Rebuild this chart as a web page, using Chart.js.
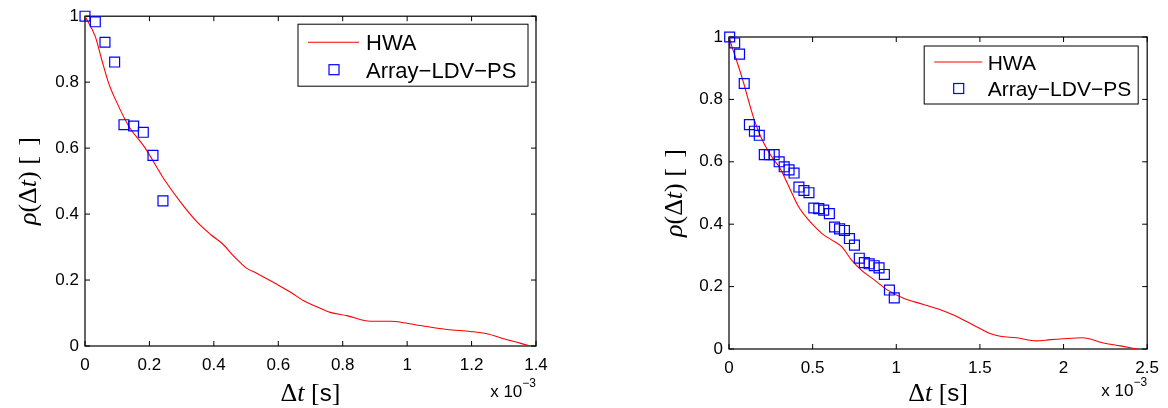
<!DOCTYPE html>
<html>
<head>
<meta charset="utf-8">
<script src="https://cdn.jsdelivr.net/npm/chart.js@4.4.0/dist/chart.umd.min.js"></script>
<style>
  html, body { margin: 0; padding: 0; background: #fff; }
  #wrap { position: relative; width: 1168px; height: 408px; overflow: hidden; }
  canvas { position: absolute; top: 0; }
  #left { left: 0; }
  #right { left: 584px; }
</style>
</head>
<body>
<div id="wrap">
  <canvas id="left" width="584" height="408"></canvas>
  <canvas id="right" width="584" height="408"></canvas>
</div>
<script>
// time lags are in units of 1e-3 s (the axes carry the "x 10^-3" multiplier)

// left panel
const leftHwaX = [0, 0.032, 0.052, 0.073, 0.099, 0.135, 0.187, 0.244, 0.296, 0.347, 0.39, 0.43, 0.46, 0.482, 0.5, 0.534, 0.596, 0.64, 0.679, 0.72, 0.761, 0.813, 0.886, 0.948, 1.0, 1.04, 1.124, 1.196, 1.248, 1.3, 1.383];
const leftHwaY = [1, 0.938, 0.868, 0.798, 0.738, 0.668, 0.6, 0.508, 0.437, 0.377, 0.338, 0.307, 0.274, 0.253, 0.237, 0.22, 0.187, 0.162, 0.137, 0.119, 0.102, 0.092, 0.075, 0.075, 0.069, 0.062, 0.05, 0.044, 0.037, 0.022, 0];
const leftLdvX = [0, 0.032, 0.062, 0.092, 0.121, 0.151, 0.181, 0.211, 0.242];
const leftLdvY = [1.0, 0.983, 0.921, 0.861, 0.671, 0.667, 0.648, 0.578, 0.440];
const leftXTicks = [0, 0.2, 0.4, 0.6, 0.8, 1, 1.2, 1.4];

// right panel
const rightHwaX = [0, 0.02, 0.045, 0.083, 0.12, 0.152, 0.19, 0.231, 0.27, 0.3, 0.368, 0.417, 0.478, 0.52, 0.556, 0.615, 0.675, 0.734, 0.793, 0.872, 0.951, 1.05, 1.109, 1.247, 1.346, 1.42, 1.503, 1.56, 1.621, 1.72, 1.838, 1.92, 1.996, 2.115, 2.233, 2.34, 2.44];
const rightHwaY = [1, 0.965, 0.925, 0.861, 0.79, 0.733, 0.68, 0.637, 0.605, 0.584, 0.509, 0.455, 0.412, 0.388, 0.37, 0.349, 0.327, 0.284, 0.252, 0.22, 0.188, 0.161, 0.151, 0.129, 0.108, 0.088, 0.065, 0.05, 0.041, 0.036, 0.026, 0.03, 0.033, 0.036, 0.02, 0.01, 0];
const rightLdvX = [0.004, 0.034, 0.063, 0.091, 0.122, 0.152, 0.181, 0.211, 0.241, 0.270, 0.300, 0.330, 0.359, 0.389, 0.418, 0.448, 0.478, 0.507, 0.537, 0.566, 0.600, 0.631, 0.661, 0.690, 0.720, 0.750, 0.779, 0.809, 0.838, 0.868, 0.897, 0.929, 0.959, 0.988];
const rightLdvY = [1.0, 0.981, 0.945, 0.851, 0.719, 0.698, 0.685, 0.623, 0.623, 0.623, 0.600, 0.584, 0.574, 0.564, 0.519, 0.508, 0.501, 0.452, 0.450, 0.445, 0.434, 0.391, 0.385, 0.380, 0.354, 0.333, 0.291, 0.277, 0.273, 0.267, 0.260, 0.239, 0.189, 0.164];
const rightXTicks = [0, 0.5, 1, 1.5, 2, 2.5];

const yTicks = [0, 0.2, 0.4, 0.6, 0.8, 1];
const seriesNames = ['HWA', 'Array\u2212LDV\u2212PS'];

const SANS = '"Liberation Sans", Arial, Helvetica, sans-serif';
const SERIF = '"Liberation Serif", "Times New Roman", serif';

function pairs(xs, ys) {
  return xs.map((x, i) => ({ x: x, y: ys[i] }));
}

// matlab style box with inward ticks on all four sides
const axesBox = {
  id: 'axesBox',
  beforeDatasetsDraw(chart) {
    const { ctx, chartArea: a, scales: { x, y } } = chart;
    ctx.save();
    ctx.strokeStyle = '#000';
    ctx.lineWidth = 1;
    ctx.beginPath();
    x.ticks.forEach(t => {
      const px = x.getPixelForValue(t.value);
      ctx.moveTo(px, a.bottom); ctx.lineTo(px, a.bottom - 5);
      ctx.moveTo(px, a.top); ctx.lineTo(px, a.top + 5);
    });
    y.ticks.forEach(t => {
      const py = y.getPixelForValue(t.value);
      ctx.moveTo(a.left, py); ctx.lineTo(a.left + 5, py);
      ctx.moveTo(a.right, py); ctx.lineTo(a.right - 5, py);
    });
    ctx.stroke();
    ctx.lineWidth = 1.2;
    ctx.strokeRect(a.left, a.top, a.right - a.left, a.bottom - a.top);
    ctx.restore();
  }
};

// legend in a framed box at the upper right of the axes
const boxLegend = {
  id: 'boxLegend',
  afterDraw(chart, args, o) {
    const { ctx, chartArea: a } = chart;
    const left = a.right - o.inset - o.width;
    const top = a.top + o.inset;
    const [hwa, ldv] = chart.data.datasets;
    ctx.save();
    ctx.fillStyle = '#fff';
    ctx.fillRect(left, top, o.width, o.height);
    ctx.strokeStyle = '#000';
    ctx.lineWidth = 1;
    ctx.strokeRect(left, top, o.width, o.height);

    ctx.font = o.fontSize + 'px ' + SANS;
    ctx.fillStyle = '#000';
    ctx.textBaseline = 'alphabetic';
    const capHalf = o.fontSize * 0.716 / 2;

    const y1 = top + o.row1;
    ctx.strokeStyle = hwa.borderColor;
    ctx.lineWidth = hwa.borderWidth;
    ctx.beginPath();
    ctx.moveTo(left + o.line0, y1);
    ctx.lineTo(left + o.line1, y1);
    ctx.stroke();
    ctx.fillText(hwa.label, left + o.text, y1 + capHalf);

    const y2 = top + o.row2;
    ctx.strokeStyle = ldv.borderColor;
    ctx.lineWidth = ldv.borderWidth;
    ctx.strokeRect(left + o.marker - 5, y2 - 5, 10, 10);
    ctx.fillText(ldv.label, left + o.text, y2 + capHalf);
    ctx.restore();
  }
};

function drawRich(ctx, parts, x, y, angle) {
  ctx.save();
  ctx.translate(x, y);
  ctx.rotate(angle);
  let total = 0;
  parts.forEach(p => { ctx.font = p[1]; total += ctx.measureText(p[0]).width; });
  let cx = -total / 2;
  ctx.fillStyle = '#000';
  ctx.textBaseline = 'alphabetic';
  parts.forEach(p => {
    ctx.font = p[1];
    ctx.fillText(p[0], cx, 0);
    cx += ctx.measureText(p[0]).width;
  });
  ctx.restore();
}

// axis titles and the x10^-3 multiplier
const axisText = {
  id: 'axisText',
  afterDraw(chart, args, o) {
    const { ctx, chartArea: a } = chart;
    const fs = o.titleSize;
    const it = 'italic ' + fs + 'px ' + SERIF;
    const rm = fs + 'px ' + SERIF;
    drawRich(ctx, [['\u0394', rm], ['t', it], [' [', rm], ['s', (fs - 2) + 'px ' + SANS], [']', rm]],
      (a.left + a.right) / 2, o.xTitleBase, 0);
    drawRich(ctx, [['\u03c1', it], ['(', rm], ['\u0394', rm], ['t', it], [')', rm], [' [\u2009\u2009]', rm]],
      o.yTitleBase, (a.top + a.bottom) / 2, -Math.PI / 2);

    ctx.save();
    ctx.fillStyle = '#000';
    ctx.textBaseline = 'alphabetic';
    ctx.font = '12px ' + SANS;
    const supW = ctx.measureText('\u22123').width;
    ctx.textAlign = 'right';
    ctx.fillText('\u22123', a.right, o.expBase - 10);
    ctx.font = '17px ' + SANS;
    ctx.fillText('x 10', a.right - supW, o.expBase);
    ctx.restore();
  }
};

function buildChart(id, s) {
  const tickFont = { family: SANS, size: 17 };
  return new Chart(document.getElementById(id), {
    type: 'scatter',
    data: {
      datasets: [
        {
          label: seriesNames[0],
          data: pairs(s.hwaX, s.hwaY),
          showLine: true,
          borderColor: 'rgb(255,0,0)',
          borderWidth: 1.1,
          pointRadius: 0,
          cubicInterpolationMode: 'monotone',
          order: 1
        },
        {
          label: seriesNames[1],
          data: pairs(s.ldvX, s.ldvY),
          showLine: false,
          pointStyle: 'rect',
          pointRadius: 7,
          pointHoverRadius: 7,
          borderColor: 'rgb(0,0,255)',
          backgroundColor: 'rgba(0,0,0,0)',
          borderWidth: 1.2,
          clip: false,
          order: 0
        }
      ]
    },
    options: {
      responsive: false,
      animation: false,
      devicePixelRatio: 1,
      events: [],
      layout: { padding: { top: s.padTop, right: s.padRight, left: 0, bottom: 0 } },
      plugins: {
        legend: { display: false },
        tooltip: { enabled: false },
        boxLegend: s.legend,
        axisText: s.text
      },
      scales: {
        x: {
          type: 'linear',
          min: 0,
          max: s.xTicks[s.xTicks.length - 1],
          afterBuildTicks: sc => { sc.ticks = s.xTicks.map(v => ({ value: v })); },
          afterFit: sc => { sc.height = s.xAxisHeight; },
          grid: { display: false, drawTicks: false },
          border: { display: false },
          ticks: { font: tickFont, color: '#000', padding: 9, maxRotation: 0, autoSkip: false, callback: v => String(v) }
        },
        y: {
          type: 'linear',
          min: 0,
          max: 1,
          afterBuildTicks: sc => { sc.ticks = yTicks.map(v => ({ value: v })); },
          afterFit: sc => { sc.width = s.yAxisWidth; },
          grid: { display: false, drawTicks: false },
          border: { display: false },
          ticks: { font: tickFont, color: '#000', padding: 6, autoSkip: false, callback: v => String(v) }
        }
      }
    },
    plugins: [axesBox, boxLegend, axisText]
  });
}

buildChart('left', {
  hwaX: leftHwaX, hwaY: leftHwaY, ldvX: leftLdvX, ldvY: leftLdvY, xTicks: leftXTicks,
  padTop: 13, padRight: 48, yAxisWidth: 85, xAxisHeight: 62,
  legend: { inset: 8, width: 230, height: 62, row1: 18, row2: 45.5, line0: 10, line1: 61, marker: 36, text: 68, fontSize: 22 },
  text: { titleSize: 26, xTitleBase: 401, yTitleBase: 36, expBase: 397 }
});

buildChart('right', {
  hwaX: rightHwaX, hwaY: rightHwaY, ldvX: rightLdvX, ldvY: rightLdvY, xTicks: rightXTicks,
  padTop: 37, padRight: 16, yAxisWidth: 145, xAxisHeight: 59,
  legend: { inset: 9, width: 214, height: 58, row1: 16, row2: 42.5, line0: 10, line1: 58, marker: 34.5, text: 63.5, fontSize: 21 },
  text: { titleSize: 26, xTitleBase: 401, yTitleBase: 98, expBase: 396 }
});
</script>
</body>
</html>
